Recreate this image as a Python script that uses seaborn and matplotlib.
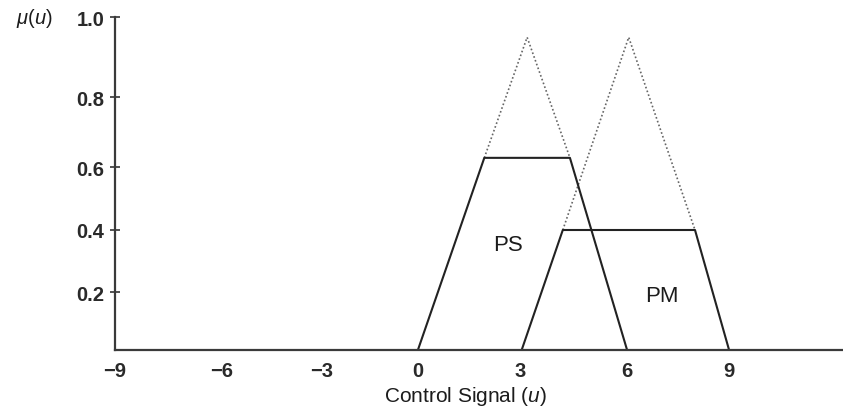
import numpy as np
import matplotlib
matplotlib.use("Agg")
import matplotlib.pyplot as plt
import seaborn as sns

# ---- data ----
ps_x = [0.0, 1.95, 4.4, 6.0]
ps_y = [0.0, 0.627, 0.627, 0.0]
ps_peak_x = [1.95, 3.2, 4.4]
ps_peak_y = [0.627, 0.95, 0.627]

pm_x = [3.05, 4.2, 8.0, 9.0]
pm_y = [0.0, 0.40, 0.40, 0.0]
pm_peak_x = [4.2, 6.05, 8.0]
pm_peak_y = [0.40, 0.95, 0.40]

x_ticks = [-9, -6, -3, 0, 3, 6, 9]
x_tick_labels = ["\u22129", "\u22126", "\u22123", "0", "3", "6", "9"]
y_ticks = [0.2, 0.4, 0.6, 0.8, 1.0]
y_tick_labels = ["0.2", "0.4", "0.6", "0.8", "1.0"]

labels = ["PS", "PM"]
label_x = [2.65, 7.03]
label_y = [0.352, 0.19]

# ---- style ----
sns.set_style("ticks")
plt.rcParams["font.family"] = ["Liberation Sans", "DejaVu Sans"]
plt.rcParams["mathtext.fontset"] = "custom"
plt.rcParams["mathtext.rm"] = "Liberation Sans"
plt.rcParams["mathtext.it"] = "Liberation Sans:italic"

ink = "#1c1c1c"

fig = plt.figure(figsize=(8.43, 4.14), dpi=100)
W, H = 843, 414
ax = fig.add_axes([115 / W, (H - 350.7) / H, (W - 115) / W, (350.7 - 18.3) / H])

# hand-drawn axis spacing of the original figure (piecewise-linear scales)
xs_d = np.array([-100, -9, -6, -3, 0, 3, 6, 9, 12.3, 100])
xs_p = np.array([-3070, 115, 222, 322, 418, 520, 627, 729, 843, 3869], float)
ys_d = np.array([-1, 0, 0.2, 0.4, 0.6, 0.8, 1.0, 2])
ys_p = np.array([-287, 0, 57.4, 119.7, 182.4, 252.4, 332.4, 732.4])

ax.set_xscale("function", functions=(lambda v: np.interp(v, xs_d, xs_p),
                                     lambda p: np.interp(p, xs_p, xs_d)))
ax.set_yscale("function", functions=(lambda v: np.interp(v, ys_d, ys_p),
                                     lambda p: np.interp(p, ys_p, ys_d)))

dot = dict(color="#666666", lw=1.2, linestyle=(0, (1, 1.4)))
sns.lineplot(x=ps_peak_x, y=ps_peak_y, estimator=None, sort=False, ax=ax, **dot)
sns.lineplot(x=pm_peak_x, y=pm_peak_y, estimator=None, sort=False, ax=ax, **dot)
sns.lineplot(x=ps_x, y=ps_y, estimator=None, sort=False, ax=ax, color="#222222", lw=1.5)
sns.lineplot(x=pm_x, y=pm_y, estimator=None, sort=False, ax=ax, color="#222222", lw=1.5)

for t, tx, ty in zip(labels, label_x, label_y):
    ax.text(tx, ty, t, ha="center", va="center", fontsize=16, color=ink)

ax.set_xlim(-9, 12.3)
ax.set_ylim(0, 1.0)
ax.set_xticks(x_ticks)
ax.set_xticklabels(x_tick_labels, fontweight="bold")
ax.set_yticks(y_ticks)
ax.set_yticklabels(y_tick_labels, fontweight="bold")

ax.tick_params(axis="x", length=0, pad=8, labelsize=14.5, labelcolor="#2a2a2a")
ax.tick_params(axis="y", direction="inout", length=6.5, width=1.2, color="#333333",
               pad=4.5, labelsize=14.5, labelcolor="#2a2a2a")

for s in ["top", "right"]:
    ax.spines[s].set_visible(False)
for s in ["left", "bottom"]:
    ax.spines[s].set_color("#3a3a3a")
    ax.spines[s].set_linewidth(1.6)

ax.set_xlabel("Control Signal ($\\mathit{u}$)", fontsize=15, color=ink)
ax.xaxis.label.set_va("center")
ax.xaxis.set_label_coords((466 - 115) / (W - 115), (350.7 - 397) / (350.7 - 18.3))
ax.set_ylabel("")

fig.text(34 / W, 1 - 19 / H, "$\\mu$($u$)", ha="center", va="center",
         fontsize=14.5, color=ink)

fig.savefig("out.png", dpi=100)
